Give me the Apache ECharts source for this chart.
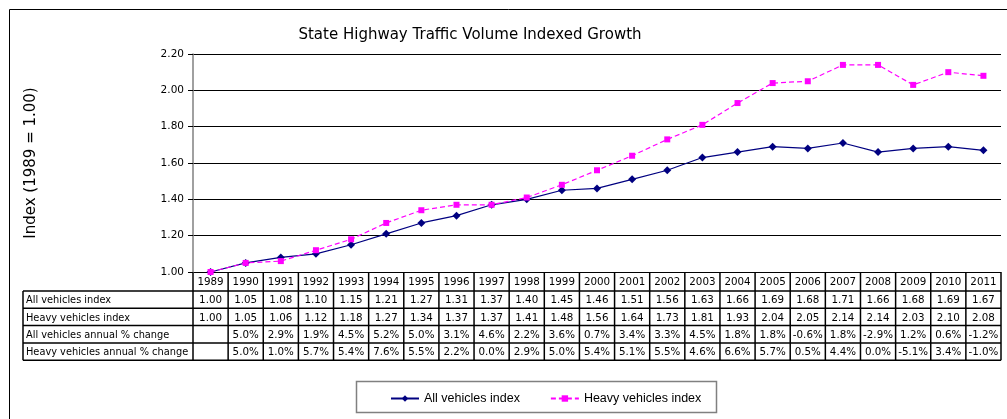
<!DOCTYPE html>
<html>
<head>
<meta charset="utf-8">
<script src="https://cdn.jsdelivr.net/npm/echarts@6/dist/echarts.min.js"></script>
<style>
  html, body { margin: 0; padding: 0; background: #fff; }
  #main { width: 1007px; height: 419px; }
</style>
</head>
<body>
<div id="main"></div>
<script>
// chart data
var years = ['1989', '1990', '1991', '1992', '1993', '1994', '1995', '1996', '1997', '1998', '1999', '2000',
  '2001', '2002', '2003', '2004', '2005', '2006', '2007', '2008', '2009', '2010', '2011'];
var allIndex = [1.00, 1.05, 1.08, 1.10, 1.15, 1.21, 1.27, 1.31, 1.37, 1.40, 1.45, 1.46,
  1.51, 1.56, 1.63, 1.66, 1.69, 1.68, 1.71, 1.66, 1.68, 1.69, 1.67];
var heavyIndex = [1.00, 1.05, 1.06, 1.12, 1.18, 1.27, 1.34, 1.37, 1.37, 1.41, 1.48, 1.56,
  1.64, 1.73, 1.81, 1.93, 2.04, 2.05, 2.14, 2.14, 2.03, 2.10, 2.08];
var allChange = ['', '5.0%', '2.9%', '1.9%', '4.5%', '5.2%', '5.0%', '3.1%', '4.6%', '2.2%', '3.6%', '0.7%',
  '3.4%', '3.3%', '4.5%', '1.8%', '1.8%', '-0.6%', '1.8%', '-2.9%', '1.2%', '0.6%', '-1.2%'];
var heavyChange = ['', '5.0%', '1.0%', '5.7%', '5.4%', '7.6%', '5.5%', '2.2%', '0.0%', '2.9%', '5.0%', '5.4%',
  '5.1%', '5.5%', '4.6%', '6.6%', '5.7%', '0.5%', '4.4%', '0.0%', '-5.1%', '3.4%', '-1.0%'];
var rowNames = ['All vehicles index', 'Heavy vehicles index', 'All vehicles annual % change', 'Heavy vehicles annual % change'];

var FONT = 'DejaVu Sans';

var myChart = echarts.init(document.getElementById('main'));

var option = {
  animation: false,
  backgroundColor: '#fff',
  title: {
    text: 'State Highway Traffic Volume Indexed Growth',
    left: 465,
    textAlign: 'center',
    top: 23,
    textStyle: { fontFamily: FONT, fontSize: 15, fontWeight: 'normal', color: '#000' }
  },
  legend: {
    left: 385,
    top: 387,
    itemWidth: 28,
    itemHeight: 8,
    itemGap: 30,
    textStyle: { fontFamily: 'Liberation Sans', fontSize: 12.5, color: '#000' },
    data: ['All vehicles index', 'Heavy vehicles index']
  },
  grid: { left: 193, right: 6, top: 54, bottom: 147 },
  xAxis: {
    type: 'category',
    data: years,
    boundaryGap: true,
    axisLine: { show: false },
    axisTick: { show: false },
    axisLabel: { show: false }
  },
  yAxis: {
    type: 'value',
    min: 1,
    max: 2.2,
    interval: 0.2,
    name: 'Index (1989 = 1.00)',
    nameLocation: 'middle',
    nameGap: 154,
    nameTextStyle: { fontFamily: FONT, fontSize: 15, color: '#000' },
    axisLine: { show: true, lineStyle: { color: '#808080', width: 1.5 } },
    axisTick: { show: true, length: 5, lineStyle: { color: '#000' } },
    axisLabel: {
      fontFamily: FONT, fontSize: 10.5, color: '#000', margin: 9,
      formatter: function (v) { return v.toFixed(2); }
    },
    splitLine: { show: true, lineStyle: { color: '#000', width: 1.2 } }
  },
  series: [
    {
      name: 'All vehicles index',
      type: 'line',
      data: allIndex,
      symbol: 'diamond',
      symbolSize: 8,
      color: '#000080',
      lineStyle: { width: 1.2, color: '#000080' },
      itemStyle: { color: '#000080' },
      z: 3
    },
    {
      name: 'Heavy vehicles index',
      type: 'line',
      data: heavyIndex,
      symbol: 'rect',
      symbolSize: 6,
      color: '#ff00ff',
      lineStyle: { width: 1.2, color: '#ff00ff', type: [5, 3] },
      itemStyle: { color: '#ff00ff' },
      z: 4
    }
  ]
};

myChart.setOption(option);

// data table under the plot, aligned to the category axis
function buildTable() {
  var x0 = myChart.convertToPixel({ xAxisIndex: 0 }, 0);
  var x1 = myChart.convertToPixel({ xAxisIndex: 0 }, 1);
  var band = x1 - x0;
  var left = x0 - band / 2;
  var right = left + band * years.length;
  var top = myChart.convertToPixel({ yAxisIndex: 0 }, 1);
  var headH = 19, rowH = 17.3;
  var labelLeft = 23;
  var bottom = top + headH + rowH * rowNames.length;
  var els = [];
  var stroke = { stroke: '#000', lineWidth: 1.5 };

  function hline(xa, xb, y) {
    els.push({ type: 'line', shape: { x1: xa, y1: y, x2: xb, y2: y }, style: stroke, silent: true });
  }
  function vline(x, ya, yb) {
    els.push({ type: 'line', shape: { x1: x, y1: ya, x2: x, y2: yb }, style: stroke, silent: true });
  }
  function text(str, x, y, align, size) {
    els.push({
      type: 'text', x: x, y: y, silent: true,
      style: { text: str, fill: '#000', font: (size || 10.3) + 'px "' + FONT + '"', align: align, verticalAlign: 'middle' }
    });
  }

  // horizontal borders
  hline(left, right, top + headH);
  for (var r = 0; r < rowNames.length; r++) {
    var y = top + headH + rowH * (r + 1);
    hline(labelLeft, right, y);
  }
  hline(labelLeft, left, top + headH);
  // vertical borders
  vline(labelLeft, top + headH, bottom);
  for (var i = 0; i <= years.length; i++) {
    vline(left + band * i, top, bottom);
  }

  // header years
  for (var j = 0; j < years.length; j++) {
    var cx = left + band * (j + 0.5);
    text(years[j], cx, top + headH / 2 + 1, 'center');
  }
  var rows = [
    allIndex.map(function (v) { return v.toFixed(2); }),
    heavyIndex.map(function (v) { return v.toFixed(2); }),
    allChange,
    heavyChange
  ];
  for (var k = 0; k < rows.length; k++) {
    var cy = top + headH + rowH * (k + 0.5) + 1;
    text(rowNames[k], labelLeft + 3, cy, 'left', 9.8);
    for (var m = 0; m < years.length; m++) {
      text(rows[k][m], left + band * (m + 0.5), cy, 'center');
    }
  }

  // outer frame and legend box
  els.push({ type: 'rect', shape: { x: 9.5, y: 9.5, width: 1010, height: 420 },
    style: { fill: null, stroke: '#000', lineWidth: 1 }, silent: true, z: -1 });
  els.push({ type: 'rect', shape: { x: 356.5, y: 381.5, width: 360, height: 31 },
    style: { fill: null, stroke: '#808080', lineWidth: 1.5 }, silent: true, z: -1 });

  myChart.setOption({ graphic: { elements: els } });
}

buildTable();
</script>
</body>
</html>
